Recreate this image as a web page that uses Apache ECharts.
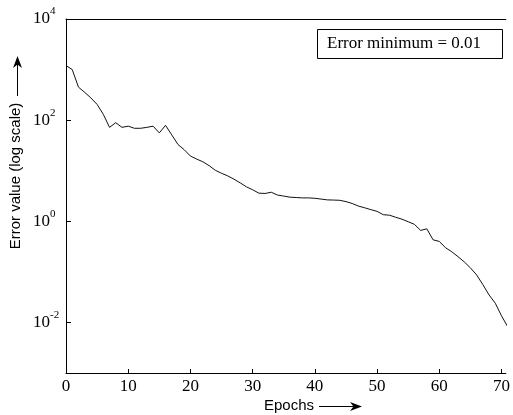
<!DOCTYPE html>
<html><head><meta charset="utf-8">
<script src="https://cdn.jsdelivr.net/npm/echarts@6/dist/echarts.min.js"></script>
<style>html,body{margin:0;padding:0;background:#fff}#c{width:513px;height:415px}</style>
</head><body><div id="c"></div>
<script>
const epochs = [0,1,2,3,4,5,6,7,8,9,10,11,12,13,14,15,16,17,18,19,20,21,22,23,24,25,26,27,28,29,30,31,32,33,34,35,36,37,38,39,40,41,42,43,44,45,46,47,48,49,50,51,52,53,54,55,56,57,58,59,60,61,62,63,64,65,66,67,68,69,70,71];
const errorValues = [1200,1000,450,355,275,205,130,72,89,72,76,69,69,72,76,56,79,51,33,26,19.5,17,15,12.6,10.2,8.9,7.9,6.8,5.75,4.8,4.2,3.6,3.55,3.75,3.3,3.15,3.0,2.95,2.9,2.9,2.85,2.75,2.65,2.63,2.6,2.45,2.25,2.0,1.85,1.7,1.57,1.35,1.32,1.2,1.1,0.98,0.87,0.66,0.71,0.43,0.40,0.30,0.25,0.20,0.158,0.12,0.087,0.056,0.035,0.024,0.0135,0.0082];
const xTicks = [0,10,20,30,40,50,60,70];
const yTicks = [1e-2,1,1e2,1e4];
const xName = 'Epochs';
const yName = 'Error value (log scale)';
const legendText = 'Error minimum = 0.01';

const chart = echarts.init(document.getElementById('c'));
const serif = 'Liberation Serif';
chart.setOption({
  animation: false,
  backgroundColor: '#fff',
  grid: {left: 66, right: 0, top: 19, bottom: 42},
  xAxis: [{
    type: 'value', min: 0, max: 70.7, position: 'bottom',
    axisLine: {show: true, onZero: false, lineStyle: {color: '#000', width: 1}},
    axisTick: {show: true, inside: true, length: 4, customValues: xTicks, lineStyle: {color: '#000'}},
    axisLabel: {customValues: xTicks, color: '#000', fontFamily: serif, fontSize: 17, margin: 5, hideOverlap: false},
    splitLine: {show: false}
  }, {
    type: 'value', min: 0, max: 70.7, position: 'top',
    axisLine: {show: true, onZero: false, lineStyle: {color: '#000', width: 1}},
    axisTick: {show: false}, axisLabel: {show: false}, splitLine: {show: false}
  }],
  yAxis: {
    type: 'log', logBase: 10, min: 1e-3, max: 1e4,
    axisLine: {show: true, onZero: false, lineStyle: {color: '#000', width: 1}},
    axisTick: {show: true, inside: true, length: 5, customValues: yTicks, lineStyle: {color: '#000'}},
    axisLabel: {
      customValues: yTicks, align: 'left', margin: 33,
      formatter: v => '{b|10}{s|' + Math.round(Math.log10(v)) + '}',
      rich: {
        b: {fontFamily: serif, fontSize: 17, color: '#000', lineHeight: 26},
        s: {fontFamily: serif, fontSize: 11, color: '#000', lineHeight: 11, verticalAlign: 'top'}
      }
    },
    splitLine: {show: false}
  },
  series: [{
    type: 'line', xAxisIndex: 0, symbol: 'none', showSymbol: false,
    lineStyle: {color: '#111', width: 1},
    data: epochs.map((e, i) => [e, errorValues[i]])
  }],
  graphic: [
    {type: 'rect', shape: {x: 317.5, y: 29.5, width: 185, height: 29}, style: {fill: '#fff', stroke: '#000', lineWidth: 1}, z: 100},
    {type: 'text', x: 327, y: 44, style: {text: legendText, font: '17px "Liberation Serif"', fill: '#000', verticalAlign: 'middle', align: 'left'}, z: 101},
    {type: 'text', x: 16, y: 176, rotation: Math.PI / 2, style: {text: yName, font: '15px "Liberation Sans"', fill: '#000', align: 'center', verticalAlign: 'middle'}},
    {type: 'line', shape: {x1: 17.5, y1: 96, x2: 17.5, y2: 62}, style: {stroke: '#000', lineWidth: 1}},
    {type: 'polygon', shape: {points: [[17.5, 56], [13, 68], [17.5, 64.5], [22, 68]]}, style: {fill: '#000'}},
    {type: 'text', x: 289, y: 406, style: {text: xName, font: '15px "Liberation Sans"', fill: '#000', align: 'center', verticalAlign: 'middle'}},
    {type: 'line', shape: {x1: 319, y1: 406.5, x2: 356, y2: 406.5}, style: {stroke: '#000', lineWidth: 1}},
    {type: 'polygon', shape: {points: [[362, 406.5], [350, 402], [353.5, 406.5], [350, 411]]}, style: {fill: '#000'}}
  ]
});
</script></body></html>
